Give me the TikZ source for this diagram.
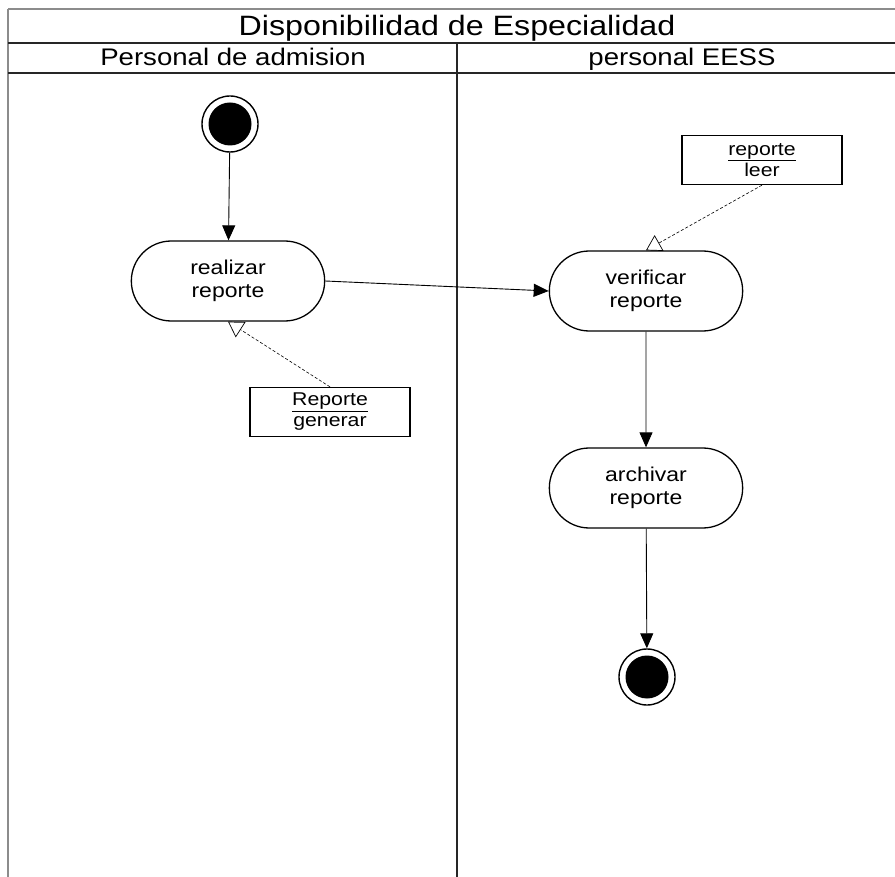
\documentclass[tikz,border=0pt]{standalone}
\usepackage{fontspec}
\setmainfont{Liberation Sans}[FakeStretch=1.15]
\usetikzlibrary{shapes.misc,arrows.meta}

\tikzset{
  frameline/.style={draw=black!45, line width=1.6pt},
  laneline/.style={draw=black!85, line width=1.3pt},
  activity/.style={draw, line width=1.3pt, rounded rectangle,
    minimum width=200pt, minimum height=80pt, align=center,
    font=\fontsize{20}{23}\selectfont},
  notebox/.style={draw, line width=1.3pt, rectangle, minimum width=160pt,
    minimum height=49pt, align=center, inner sep=2pt,
    font=\fontsize{18.5}{21}\selectfont},
  ringnode/.style={draw, circle, line width=1.4pt, minimum size=56pt, inner sep=0pt},
  dotnode/.style={fill=black, circle, minimum size=43pt, inner sep=0pt},
  flow/.style={line width=0.9pt, -{Triangle[length=15pt,width=13pt]}},
  trace/.style={line width=0.6pt, densely dashed,
    -{Triangle[open,length=15pt,width=18pt,line width=0.7pt]}},
  titletext/.style={font=\fontsize{28}{30}\selectfont, anchor=base},
  headtext/.style={font=\fontsize{24}{26}\selectfont, anchor=base}
}

\begin{document}
\begin{tikzpicture}[x=1pt,y=-1pt]
\useasboundingbox (0,0) rectangle (895,877);
\begin{scope}
\clip (0,0) rectangle (895,877);

% swimlane frame
\draw[frameline] (8,9) -- (910,9);
\draw[frameline] (8,9) -- (8,880);
\draw[laneline] (8,43) -- (910,43);
\draw[laneline] (8,73) -- (910,73);
\draw[laneline] (457,43) -- (457,880);

\node[titletext] (title) at (457,36) {Disponibilidad de Especialidad};
\node[headtext] (laneA) at (233,66) {Personal de admision};
\node[headtext] (laneB) at (682,66) {personal EESS};

% initial and final states
\node[ringnode] (start) at (230,124) {};
\node[dotnode] at (start) {};
\node[ringnode] (stop) at (647,677) {};
\node[dotnode] at (stop) {};

% activities
\node[activity] (realizar) at (228,281) {realizar\\reporte};
\node[activity] (verificar) at (646,291) {verificar\\reporte};
\node[activity] (archivar) at (646,488) {archivar\\reporte};

% object notes
\node[notebox] (leer) at (762,160) {\underline{reporte}\\leer};
\node[notebox] (generar) at (330,412) {\underline{Reporte}\\generar};

% control flow
\draw[flow] (start) -- (realizar);
\draw[flow] (realizar.east) -- (verificar.west);
\draw[flow] (verificar) -- (archivar);
\draw[flow] (archivar) -- (stop);

% note links
\draw[trace] (leer.south) -- (verificar.north);
\draw[trace] (generar.north) -- (realizar.south);
\end{scope}
\end{tikzpicture}
\end{document}
